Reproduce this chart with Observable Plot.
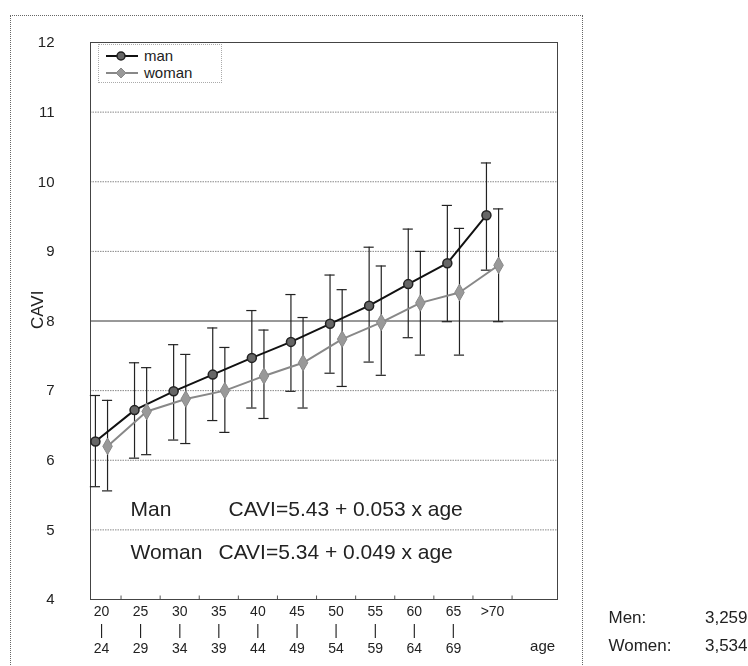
<!DOCTYPE html>
<html><head><meta charset="utf-8">
<script src="https://cdn.jsdelivr.net/npm/d3@7"></script>
<script src="https://cdn.jsdelivr.net/npm/@observablehq/plot@0.6"></script>
<style>
body{margin:0;background:#fff;}
#wrap{position:relative;width:748px;height:666px;overflow:hidden;font-family:"Liberation Sans",Arial,sans-serif;}
#outer{position:absolute;left:10px;top:15px;width:571px;height:700px;border:1px dotted #666;}
#chart{position:absolute;left:0;top:0;}
#chart svg{will-change:transform;}
#legend{position:absolute;left:98px;top:44px;width:122px;height:37px;border:1px dotted #aaa;background:#fff;}
</style></head>
<body>
<div id="wrap">
<div id="outer"></div>
<div id="chart"></div>
<div id="legend">
<svg width="122" height="37" style="position:absolute;left:0;top:0;font-family:'Liberation Sans',Arial,sans-serif">
<line x1="7" y1="11" x2="39" y2="11" stroke="#111" stroke-width="2"/>
<circle cx="22" cy="11" r="4" fill="#666" stroke="#222" stroke-width="1.5"/>
<text x="45" y="16" font-size="15" fill="#222">man</text>
<line x1="7" y1="28" x2="39" y2="28" stroke="#888" stroke-width="2"/>
<path d="M22,23 L27,28 L22,33 L17,28 Z" fill="#999" stroke="#888"/>
<text x="45" y="33" font-size="15" fill="#222">woman</text>
</svg>
</div>
</div>
<script>
const ageTop = ["20","25","30","35","40","45","50","55","60","65",">70"];
const ageBottom = ["24","29","34","39","44","49","54","59","64","69",""];
const yTicks = [4,5,6,7,8,9,10,11,12];
const gridValues = [5,6,7,9,10,11];

const manMean  = [6.27, 6.72, 6.99, 7.23, 7.47, 7.70, 7.96, 8.22, 8.53, 8.83, 9.52];
const manHigh  = [6.93, 7.40, 7.66, 7.90, 8.15, 8.38, 8.66, 9.06, 9.32, 9.66, 10.27];
const manLow   = [5.62, 6.03, 6.29, 6.57, 6.75, 6.99, 7.25, 7.41, 7.76, 7.99, 8.73];
const womanMean = [6.20, 6.70, 6.88, 7.00, 7.21, 7.40, 7.74, 7.98, 8.26, 8.41, 8.80];
const womanHigh = [6.86, 7.33, 7.52, 7.62, 7.87, 8.05, 8.45, 8.79, 9.00, 9.33, 9.61];
const womanLow  = [5.56, 6.08, 6.24, 6.40, 6.60, 6.75, 7.06, 7.22, 7.51, 7.51, 7.99];

const eqMan = "CAVI=5.43 + 0.053 x age";
const eqWoman = "CAVI=5.34 + 0.049 x age";
const countLabels = ["Men:", "Women:"];
const countValues = ["3,259", "3,534"];

const idx = d3.range(ageTop.length);
const man = idx.map(i => ({x: i - 0.155, mean: manMean[i], lo: manLow[i], hi: manHigh[i]}));
const woman = idx.map(i => ({x: i + 0.155, mean: womanMean[i], lo: womanLow[i], hi: womanHigh[i]}));
const rows = man.concat(woman);
const cap = 0.13;
const txt = {fill: "#222"};

const countMarks = countLabels.flatMap((lab, i) => [
  Plot.text([lab], {frameAnchor: "top-right", textAnchor: "start", lineAnchor: "middle", dx: 51, dy: 575 + i * 28, fontSize: 17, ...txt}),
  Plot.text([countValues[i]], {frameAnchor: "top-right", textAnchor: "end", lineAnchor: "middle", dx: 190, dy: 575 + i * 28, fontSize: 17, ...txt})
]);

const chart = Plot.plot({
  width: 748, height: 666,
  marginLeft: 90, marginRight: 191, marginTop: 42, marginBottom: 67,
  style: {fontFamily: "'Liberation Sans', Arial, sans-serif", background: "transparent", overflow: "visible", color: "#222"},
  x: {domain: [-0.281, 11.662], axis: null},
  y: {domain: [4, 12], axis: null},
  marks: [
    Plot.ruleY(gridValues, {stroke: "#888", strokeWidth: 1, strokeDasharray: "1.5,1"}),
    Plot.ruleY([8], {stroke: "#333", strokeWidth: 1}),
    Plot.frame({stroke: "#444"}),
    Plot.axisY({ticks: yTicks, tickSize: 0, tickPadding: 36, fontSize: 15, label: null}),
    Plot.text(["CAVI"], {frameAnchor: "left", dx: -53, dy: 8, rotate: -90, fontSize: 17, ...txt}),
    Plot.ruleX(idx, {x: i => i + 0.5, y1: 4, y2: 4.05, stroke: "#555"}),
    Plot.text(idx, {x: i => i, text: i => ageBottom[i] ? `${ageTop[i]}\n|\n${ageBottom[i]}` : ageTop[i],
      frameAnchor: "bottom", lineAnchor: "top", dy: 4, dx: 0, fontSize: 14, lineHeight: 1.3, ...txt}),
    Plot.text(["age"], {x: 11.28, frameAnchor: "bottom", lineAnchor: "middle", dy: 47, fontSize: 15, ...txt}),
    Plot.ruleX(rows, {x: "x", y1: "lo", y2: "hi", stroke: "#222", strokeWidth: 1.2}),
    Plot.ruleY(rows, {y: "hi", x1: d => d.x - cap, x2: d => d.x + cap, stroke: "#222", strokeWidth: 1.2}),
    Plot.ruleY(rows, {y: "lo", x1: d => d.x - cap, x2: d => d.x + cap, stroke: "#222", strokeWidth: 1.2}),
    Plot.line(woman, {x: "x", y: "mean", stroke: "#888", strokeWidth: 2}),
    Plot.line(man, {x: "x", y: "mean", stroke: "#111", strokeWidth: 2}),
    Plot.dot(woman, {x: "x", y: "mean", symbol: "diamond", r: 5, fill: "#999", stroke: "#888", strokeWidth: 1}),
    Plot.dot(man, {x: "x", y: "mean", r: 4.5, fill: "#666", stroke: "#222", strokeWidth: 1.5}),
    Plot.text(["Man"], {frameAnchor: "top-left", textAnchor: "start", lineAnchor: "bottom", dx: 40, dy: 473, fontSize: 21, ...txt}),
    Plot.text([eqMan], {frameAnchor: "top-left", textAnchor: "start", lineAnchor: "bottom", dx: 138, dy: 473, fontSize: 21, ...txt}),
    Plot.text(["Woman"], {frameAnchor: "top-left", textAnchor: "start", lineAnchor: "bottom", dx: 40, dy: 516, fontSize: 21, ...txt}),
    Plot.text([eqWoman], {frameAnchor: "top-left", textAnchor: "start", lineAnchor: "bottom", dx: 128, dy: 516, fontSize: 21, ...txt}),
    ...countMarks
  ]
});
document.getElementById("chart").appendChild(chart);
</script>
</body></html>
